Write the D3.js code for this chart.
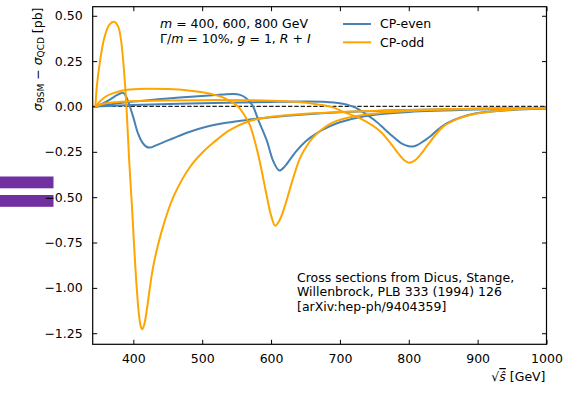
<!DOCTYPE html>
<html>
<head>
<meta charset="utf-8">
<script src="https://cdn.jsdelivr.net/npm/d3@7"></script>
<style>
body { margin: 0; background: #fff; }
text { font-family: 'DejaVu Sans', sans-serif; font-size: 12.5px; fill: #000; }
.curve { fill: none; stroke-width: 2; }
</style>
</head>
<body>
<div id="chart"></div>
<script>
// sqrt(s) [GeV], sigma_BSM - sigma_QCD [pb]
var even400 = [[345,0],[355,0.016],[366,0.038],[376,0.062],[382,0.073],[386,0.074],[390,0.05],[395,0.0],[400,-0.06],[406,-0.14],[413,-0.198],[419,-0.222],[425,-0.226],[432,-0.216],[445,-0.195],[458,-0.175],[480,-0.142],[506,-0.112],[535,-0.09],[565,-0.074],[600,-0.06],[642,-0.046],[700,-0.032],[800,-0.02],[900,-0.013],[1000,-0.009]];
var even600 = [[345,0],[370,0.014],[400,0.027],[450,0.044],[500,0.058],[530,0.066],[545,0.069],[555,0.064],[563,0.048],[569,0.026],[574,0.0],[581,-0.07],[594,-0.19],[603,-0.3],[612,-0.353],[620,-0.33],[628,-0.29],[637,-0.245],[650,-0.193],[666,-0.148],[685,-0.11],[700,-0.087],[730,-0.058],[760,-0.042],[800,-0.03],[900,-0.017],[1000,-0.01]];
var even800 = [[345,0],[400,0.008],[500,0.018],[600,0.025],[650,0.027],[680,0.025],[700,0.018],[712,0.008],[722,-0.005],[735,-0.035],[750,-0.075],[765,-0.125],[777,-0.166],[790,-0.205],[800,-0.219],[806,-0.221],[813,-0.212],[822,-0.19],[831,-0.166],[842,-0.128],[855,-0.093],[875,-0.06],[898,-0.037],[950,-0.019],[1000,-0.011]];
var odd400 = [[345,0],[347,0.11],[352,0.26],[358,0.38],[365,0.45],[372,0.467],[378,0.44],[382,0.37],[386,0.22],[390,0.0],[394,-0.3],[398,-0.55],[403,-0.89],[408,-1.14],[411,-1.215],[413,-1.228],[416,-1.2],[420,-1.11],[424,-1.0],[429,-0.88],[441,-0.69],[458,-0.5],[482,-0.335],[500,-0.255],[516,-0.2],[540,-0.13],[569,-0.08],[600,-0.057],[650,-0.04],[700,-0.03],[800,-0.019],[900,-0.013],[1000,-0.009]];
var odd600 = [[345,0],[352,0.03],[360,0.055],[370,0.072],[385,0.088],[400,0.095],[420,0.098],[450,0.096],[480,0.088],[510,0.072],[530,0.05],[540,0.03],[552,0.0],[560,-0.04],[569,-0.1],[577,-0.2],[584,-0.31],[592,-0.46],[600,-0.6],[606,-0.658],[612,-0.63],[620,-0.55],[627,-0.46],[635,-0.36],[642,-0.285],[655,-0.2],[666,-0.152],[690,-0.088],[720,-0.055],[760,-0.035],[800,-0.025],[900,-0.013],[1000,-0.008]];
var odd800 = [[345,0],[360,0.018],[400,0.03],[500,0.035],[600,0.032],[640,0.024],[670,0.01],[690,-0.005],[705,-0.03],[730,-0.067],[758,-0.135],[772,-0.195],[785,-0.26],[793,-0.295],[800,-0.31],[808,-0.3],[816,-0.27],[826,-0.22],[838,-0.16],[850,-0.111],[870,-0.07],[889,-0.047],[920,-0.028],[947,-0.018],[1000,-0.009]];

var xTicks = [400, 500, 600, 700, 800, 900, 1000];
var yTicks = [0.5, 0.25, 0, -0.25, -0.5, -0.75, -1.0, -1.25];
var series = [
	{name: 'CP-even', color: 'steelblue', curves: [even400, even600, even800]},
	{name: 'CP-odd',  color: 'orange',    curves: [odd400, odd600, odd800]}
];

var width = 568, height = 404;
var margin = {left: 92.7, top: 6.7, right: 21.5, bottom: 59.7};
var w = width - margin.left - margin.right;
var h = height - margin.top - margin.bottom;

var svg = d3.select('#chart').append('svg')
	.attr('width', width)
	.attr('height', height);

// stray page bits visible at the left of the picture
svg.append('rect').attr('x', 0).attr('y', 176.5).attr('width', 53.5).attr('height', 11.8).attr('fill', '#7030a0');
svg.append('rect').attr('x', 0).attr('y', 195).attr('width', 53.5).attr('height', 11.8).attr('fill', '#7030a0');

var x = d3.scaleLinear().domain([341, 1000]).range([0, w]);
var y = d3.scaleLinear().domain([-1.311, 0.55]).range([h, 0]);

var g = svg.append('g').attr('transform', 'translate(' + margin.left + ',' + margin.top + ')');

g.append('defs').append('clipPath').attr('id', 'clip')
	.append('rect').attr('width', w).attr('height', h);

var fmt = function(d) { return d3.format('.2f')(d).replace('-', '\u2212'); };

// axes, ticks pointing inward on all four sides
g.append('g').attr('transform', 'translate(0,' + h + ')')
	.call(d3.axisBottom(x).tickValues(xTicks).tickSizeInner(-4.5).tickSizeOuter(0).tickPadding(10).tickFormat(d3.format('d')));
g.append('g')
	.call(d3.axisTop(x).tickValues(xTicks).tickSizeInner(-4.5).tickSizeOuter(0).tickFormat(''));
g.append('g')
	.call(d3.axisLeft(y).tickValues(yTicks).tickSizeInner(-4.5).tickSizeOuter(0).tickPadding(10).tickFormat(fmt));
g.append('g').attr('transform', 'translate(' + w + ',0)')
	.call(d3.axisRight(y).tickValues(yTicks).tickSizeInner(-4.5).tickSizeOuter(0).tickFormat(''));

g.selectAll('.domain').remove();
g.selectAll('.tick line').attr('stroke', '#000').attr('stroke-width', 1);
g.selectAll('.tick text').style('font-family', "'DejaVu Sans', sans-serif").style('font-size', '12.5px');

// zero line
g.append('line')
	.attr('x1', 0).attr('x2', w)
	.attr('y1', y(0)).attr('y2', y(0))
	.attr('stroke', '#222').attr('stroke-width', 1.3)
	.attr('stroke-dasharray', '4.4,1.9');

var line = d3.line()
	.x(function(d) { return x(d[0]); })
	.y(function(d) { return y(d[1]); })
	.curve(d3.curveCatmullRom.alpha(0.5));

var plot = g.append('g').attr('clip-path', 'url(#clip)');
series.forEach(function(s) {
	s.curves.forEach(function(c) {
		plot.append('path').datum(c)
			.attr('class', 'curve')
			.attr('stroke', s.color)
			.attr('d', line);
	});
});

// frame
g.append('rect').attr('width', w).attr('height', h)
	.attr('fill', 'none').attr('stroke', '#000').attr('stroke-width', 1.2);

// legend
series.forEach(function(s, i) {
	var ly = 17.3 + i * 18.3;
	g.append('line')
		.attr('x1', 343 - margin.left).attr('x2', 371 - margin.left)
		.attr('y1', ly).attr('y2', ly)
		.attr('stroke', s.color).attr('stroke-width', 2);
	g.append('text')
		.attr('x', 380 - margin.left).attr('y', ly + 4.4)
		.text(s.name);
});

// parameter note
var t1 = svg.append('text').attr('x', 160).attr('y', 28.3);
t1.append('tspan').style('font-style', 'italic').text('m');
t1.append('tspan').text(' = 400, 600, 800 GeV');
var t2 = svg.append('text').attr('x', 160).attr('y', 43);
t2.append('tspan').text('\u0393/');
t2.append('tspan').style('font-style', 'italic').text('m');
t2.append('tspan').text(' = 10%, ');
t2.append('tspan').style('font-style', 'italic').text('g');
t2.append('tspan').text(' = 1, ');
t2.append('tspan').style('font-style', 'italic').text('R');
t2.append('tspan').text(' + ');
t2.append('tspan').style('font-style', 'italic').text('I');

// source note
['Cross sections from Dicus, Stange,', 'Willenbrock, PLB 333 (1994) 126', '[arXiv:hep-ph/9404359]'].forEach(function(s, i) {
	svg.append('text').attr('x', 297).attr('y', 281.5 + i * 14.7).text(s);
});

// x label
var xl = svg.append('text').attr('x', 545.5).attr('y', 381).attr('text-anchor', 'end');
xl.append('tspan').text('\u221a');
xl.append('tspan').style('font-style', 'italic').style('text-decoration', 'overline').text('\u015d');
xl.append('tspan').text(' [GeV]');

// y label, aligned to top of axes
var yl = svg.append('text')
	.attr('transform', 'translate(42,7.5) rotate(-90)')
	.attr('text-anchor', 'end');
yl.append('tspan').style('font-style', 'italic').text('\u03c3');
yl.append('tspan').attr('baseline-shift', '-25%').style('font-size', '9px').text('BSM');
yl.append('tspan').text(' \u2212 ');
yl.append('tspan').style('font-style', 'italic').text('\u03c3');
yl.append('tspan').attr('baseline-shift', '-25%').style('font-size', '9px').text('QCD');
yl.append('tspan').text(' [pb]');
</script>
</body>
</html>
